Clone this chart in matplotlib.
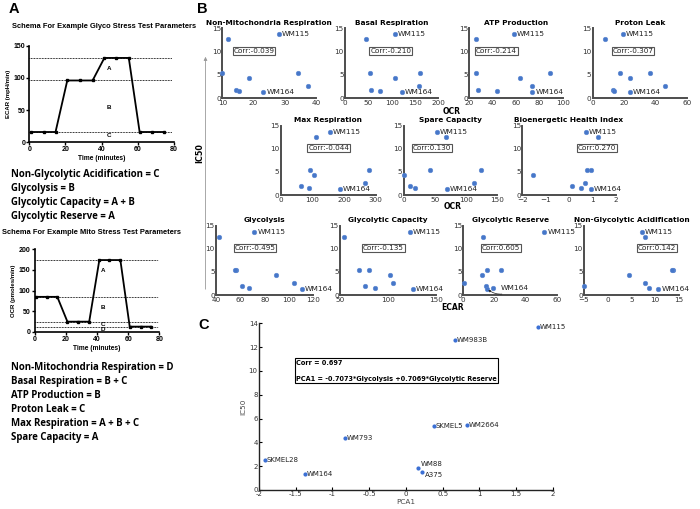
import matplotlib
matplotlib.use("Agg")
import matplotlib.pyplot as plt
from matplotlib.patches import Rectangle, FancyArrowPatch

# ---------------- data ----------------
cell_lines = ["WM115", "WM983B", "WM2664", "SKMEL5", "WM793", "SKMEL28", "WM88", "A375", "WM164"]
ic50 = [13.7, 12.6, 5.5, 5.4, 4.35, 2.55, 1.85, 1.55, 1.35]

nonmito_resp = [28.2, 11.8, 34.3, 9.9, 18.5, 37.4, 14.4, 15.2, 23.1]
basal_resp = [107, 46, 161, 54, 108, 159, 56, 74, 122]
atp_production = [58, 25.7, 88.9, 25.7, 63.7, 73.7, 27.7, 43.7, 74]
proton_leak = [19.4, 7.7, 36.6, 17.2, 23.6, 46, 12.8, 13.4, 23.8]
max_resp = [156, 112, 280, 94, 104, 267, 64, 88, 186]
spare_capacity = [53, 68, 125, 42, 0, 113.5, 9.6, 17.7, 69.6]
bhi = [0.71, 1.24, 0.93, 0.77, -1.53, 0.67, 0.11, 0.53, 0.94]
glycolysis = [71.5, 42.5, 56.7, 55.6, 89, 103.8, 61.6, 67.4, 110.4]
glyc_capacity = [123, 54, 80.7, 70, 102, 105, 76, 87, 126]
glyc_reserve = [52, 12.4, 24.4, 15, 12, 0.4, 14.3, 19, 15]
nonglyc_acid = [7.25, 7.8, 13.9, 13.5, 4.5, 7.9, -4.9, 8.8, 10.7]
pca1 = [1.8, 0.67, 0.83, 0.38, -0.83, -1.92, 0.17, 0.22, -1.37]

corr_labels = ["Corr:-0.039", "Corr:-0.210", "Corr:-0.214", "Corr:-0.307",
               "Corr:-0.044", "Corr:0.130", "Corr:0.270",
               "Corr:-0.495", "Corr:-0.135", "Corr:0.605", "Corr:0.142"]

# schema data
schema_time = [1, 8, 14.5, 21, 28, 35, 41.5, 48, 55, 61, 68, 74.5]
ecar_schema = [16, 16, 16, 96, 96, 96, 131, 131, 131, 16, 16, 16]
ecar_levels = [131, 96, 16]
ocr_schema = [85, 85, 85, 25, 25, 25, 174, 174, 174, 13, 13, 13]
ocr_levels = [174, 85, 25, 13]

glyco_lines = ["Non-Glycolytic Acidification = C", "Glycolysis = B",
               "Glycolytic Capacity = A + B", "Glycolytic Reserve = A"]
mito_lines = ["Non-Mitochondria Respiration = D", "Basal Respiration = B + C",
              "ATP Production = B", "Proton Leak = C",
              "Max Respiration = A + B + C", "Spare Capacity = A"]

# ---------------- figure ----------------
W, H = 700, 509
fig = plt.figure(figsize=(7, 5.09), dpi=100)
fig.patch.set_facecolor("white")


def add_ax(l, r, t, b):
    return fig.add_axes([l / W, 1 - b / H, (r - l) / W, (b - t) / H])


def fx(x):
    return x / W


def fy(y):
    return 1 - y / H


ARIAL = "Liberation Sans"
CAL = "Open Sans"
DV = "DejaVu Sans"

# panel letters
fig.text(fx(9), fy(9), "A", fontsize=10.5, fontweight="bold", family=ARIAL, va="center", ha="left")
fig.text(fx(197), fy(9), "B", fontsize=10.5, fontweight="bold", family=ARIAL, va="center", ha="left")
fig.text(fx(198), fy(325), "C", fontsize=10.5, fontweight="bold", family=ARIAL, va="center", ha="left")


def schema(ax, values, levels, ylim, yticks, ylabel, letters):
    ax.plot(schema_time, values, color="black", lw=1.3, marker="s", ms=1.8, zorder=3)
    for lv in levels:
        ax.plot([0, 79], [lv, lv], color="black", lw=0.7, ls=(0, (0.8, 0.8)), zorder=2)
    for (lx, ly, lt) in letters:
        ax.text(lx, ly, lt, fontsize=4.5, fontweight="bold", family=ARIAL, ha="center", va="center")
    ax.set_xlim(0, 80)
    ax.set_ylim(*ylim)
    ax.set_xticks([0, 20, 40, 60, 80])
    ax.set_yticks(yticks)
    for s in ["top", "right"]:
        ax.spines[s].set_visible(False)
    for s in ["left", "bottom"]:
        ax.spines[s].set_linewidth(1.2)
    ax.tick_params(length=2, width=1, pad=1, labelsize=5)
    for lab in ax.get_xticklabels() + ax.get_yticklabels():
        lab.set_fontweight("bold")
        lab.set_family(ARIAL)
    ax.set_xlabel("Time (minutes)", fontsize=4.8, fontweight="bold", family=ARIAL, labelpad=1)
    ax.set_ylabel(ylabel, fontsize=4.3, fontweight="bold", family=ARIAL, labelpad=2)


fig.text(fx(12), fy(27), "Schema For Example Glyco Stress Test Parameters", fontsize=5.4,
         fontweight="bold", family=ARIAL, va="center", ha="left")
axA1 = add_ax(29.3, 174, 45.7, 142.3)
schema(axA1, ecar_schema, ecar_levels, (0, 150), [0, 50, 100, 150], "ECAR (mpH/min)",
       [(44, 115, "A"), (44, 54, "B"), (44, 10, "C")])

for i, line in enumerate(glyco_lines):
    fig.text(fx(11), fy(174 + 14.3 * i), line, fontsize=6.9, fontweight="bold", family=CAL,
             va="center", ha="left")

fig.text(fx(2), fy(233), "Schema For Example Mito Stress Test Parameters", fontsize=5.4,
         fontweight="bold", family=ARIAL, va="center", ha="left")
axA2 = add_ax(34.7, 159.3, 249.3, 332)
schema(axA2, ocr_schema, ocr_levels, (0, 200), [0, 50, 100, 150, 200], "OCR (pmoles/min)",
       [(44, 148, "A"), (44, 59, "B"), (44, 19, "C"), (44, 7, "D")])

for i, line in enumerate(mito_lines):
    fig.text(fx(11), fy(367.3 + 14.1 * i), line, fontsize=6.9, fontweight="bold", family=CAL,
             va="center", ha="left")

# ---------------- panel B ----------------
BLUE = "#4677c9"
SPINE = "#4d4d4d"
panels_B = [
    ("Non-Mitochondria Respiration", nonmito_resp, (10, 40), [10, 20, 30, 40], (222.3, 316, 28.3, 98.3), 0.12),
    ("Basal Respiration", basal_resp, (0, 200), [0, 50, 100, 150, 200], (345, 438.3, 28.3, 98.3), 0.27),
    ("ATP Production", atp_production, (20, 100), [20, 40, 60, 80, 100], (469.3, 562.7, 28.3, 98.3), 0.07),
    ("Proton Leak", proton_leak, (0, 60), [0, 20, 40, 60], (592.7, 686.7, 28.3, 98.3), 0.21),
    ("Max Respiration", max_resp, (0, 300), [0, 100, 200, 300], (280.7, 375.7, 125.7, 195), 0.29),
    ("Spare Capacity", spare_capacity, (0, 150), [0, 50, 100, 150], (403.7, 497, 125.7, 195), 0.10),
    ("Bioenergetic Health Index", bhi, (-2, 2), [-2, -1, 0, 1, 2], (522.3, 615.7, 125.7, 195), 0.59),
    ("Glycolysis", glycolysis, (40, 120), [40, 60, 80, 100, 120], (216, 313.3, 225.7, 295), 0.19),
    ("Glycolytic Capacity", glyc_capacity, (50, 150), [50, 100, 150], (340, 435.7, 225.7, 295), 0.24),
    ("Glycolytic Reserve", glyc_reserve, (0, 60), [0, 20, 40, 60], (463.3, 556.7, 225.7, 295), 0.20),
    ("Non-Glycolytic Acidification", nonglyc_acid, (-5, 15), [-5, 0, 5, 10, 15], (584, 678.7, 225.7, 295), 0.57),
]

for k, (title, xs, xlim, xt, (l, r, t, b), bx) in enumerate(panels_B):
    ax = add_ax(l, r, t, b)
    ax.plot(xs, ic50, ls="none", marker="o", ms=3.3, color=BLUE, mec="#5b86d0", mew=0.4,
            clip_on=False, zorder=3)
    ax.set_xlim(*xlim)
    ax.set_ylim(0, 15)
    ax.set_xticks(xt)
    ax.set_yticks([0, 5, 10, 15])
    for s in ["top", "right"]:
        ax.spines[s].set_visible(False)
    for s in ["left", "bottom"]:
        ax.spines[s].set_linewidth(1.4)
        ax.spines[s].set_color(SPINE)
    ax.tick_params(axis="x", length=0, pad=1.3, labelsize=5.2, labelcolor="#333333")
    ax.tick_params(axis="y", length=0, pad=0.8, labelsize=5.2, labelcolor="#333333")
    for lab in ax.get_xticklabels() + ax.get_yticklabels():
        lab.set_family(DV)
    ax.set_title(title, fontsize=5.3, fontweight="bold", family=DV, pad=2.5)
    ax.text(bx, 0.68, corr_labels[k], transform=ax.transAxes, fontsize=5.2, family=DV,
            va="center", ha="left", color="#222222",
            bbox=dict(boxstyle="square,pad=0.12", fc="white", ec="#555555", lw=0.8))
    for name in ["WM115", "WM164"]:
        i = cell_lines.index(name)
        if title == "Glycolytic Reserve" and name == "WM164":
            ax.annotate(name, (xs[i], ic50[i]), xytext=(xs[i] + 9, ic50[i] + 0.1),
                        textcoords="data", va="center", ha="left", fontsize=5.4, family=DV,
                        color="#222222",
                        arrowprops=dict(arrowstyle="-|>", color="#222222", lw=0.5,
                                        mutation_scale=3,
                                        connectionstyle="arc3,rad=-0.4",
                                        shrinkA=0, shrinkB=1.5))
        else:
            ax.annotate(name, (xs[i], ic50[i]), xytext=(2.2, 0), textcoords="offset points",
                        va="center", ha="left", fontsize=5.4, family=DV, color="#222222")

fig.text(fx(452), fy(111), "OCR", fontsize=5.5, fontweight="bold", family=DV, ha="center", va="center")
fig.text(fx(453), fy(206.5), "OCR", fontsize=5.5, fontweight="bold", family=DV, ha="center", va="center")
fig.text(fx(453), fy(307), "ECAR", fontsize=5.5, fontweight="bold", family=DV, ha="center", va="center")
fig.text(fx(199.5), fy(153), "IC50", fontsize=5.8, fontweight="bold", family=DV, ha="center",
         va="center", rotation=90)
arr = FancyArrowPatch((fx(205.5), fy(292)), (fx(205.5), fy(54)), transform=fig.transFigure,
                      arrowstyle="-|>", mutation_scale=5, color="#9a9a9a", lw=0.6)
fig.add_artist(arr)

# ---------------- panel C ----------------
axC = add_ax(259, 552.7, 323.3, 490)
axC.plot(pca1, ic50, ls="none", marker="o", ms=2.0, color="#3b6fd4", clip_on=False, zorder=3)
label_offsets = {"WM88": (1.5, 2.5), "A375": (1.8, -2.5)}
for name, x, y in zip(cell_lines, pca1, ic50):
    dx, dy = label_offsets.get(name, (1.2, 0))
    axC.annotate(name, (x, y), xytext=(dx, dy), textcoords="offset points", va="center",
                 ha="left", fontsize=5.0, family=DV, color="#222222")
axC.set_xlim(-2, 2)
axC.set_ylim(0, 14)
axC.set_xticks([-2, -1.5, -1, -0.5, 0, 0.5, 1, 1.5, 2])
axC.set_xticklabels(["-2", "-1.5", "-1", "-0.5", "0", "0.5", "1", "1.5", "2"])
axC.set_yticks([0, 2, 4, 6, 8, 10, 12, 14])
for s in ["top", "right"]:
    axC.spines[s].set_visible(False)
for s in ["left", "bottom"]:
    axC.spines[s].set_linewidth(1.0)
    axC.spines[s].set_color("#222222")
axC.tick_params(length=2.5, width=0.8, pad=1, labelsize=5.0, labelcolor="#333333", direction="in")
axC.set_xlabel("PCA1", fontsize=5.2, family=DV, color="#444444", labelpad=1)
axC.set_ylabel("IC50", fontsize=5.2, family=DV, color="#444444", labelpad=2)
axC.add_patch(Rectangle((0.1216, 0.64), 0.815 - 0.1216, 0.79 - 0.64, transform=axC.transAxes,
                        fc="white", ec="black", lw=0.8, zorder=4))
axC.text(0.126, 0.764, "Corr = 0.697", transform=axC.transAxes, fontsize=4.7, fontweight="bold",
         family=DV, va="center", ha="left", zorder=5)
axC.text(0.126, 0.668, "PCA1 = -0.7073*Glycolysis +0.7069*Glycolytic Reserve", transform=axC.transAxes,
         fontsize=4.7, fontweight="bold", family=DV, va="center", ha="left", zorder=5)

fig.savefig("out.png", dpi=100)
